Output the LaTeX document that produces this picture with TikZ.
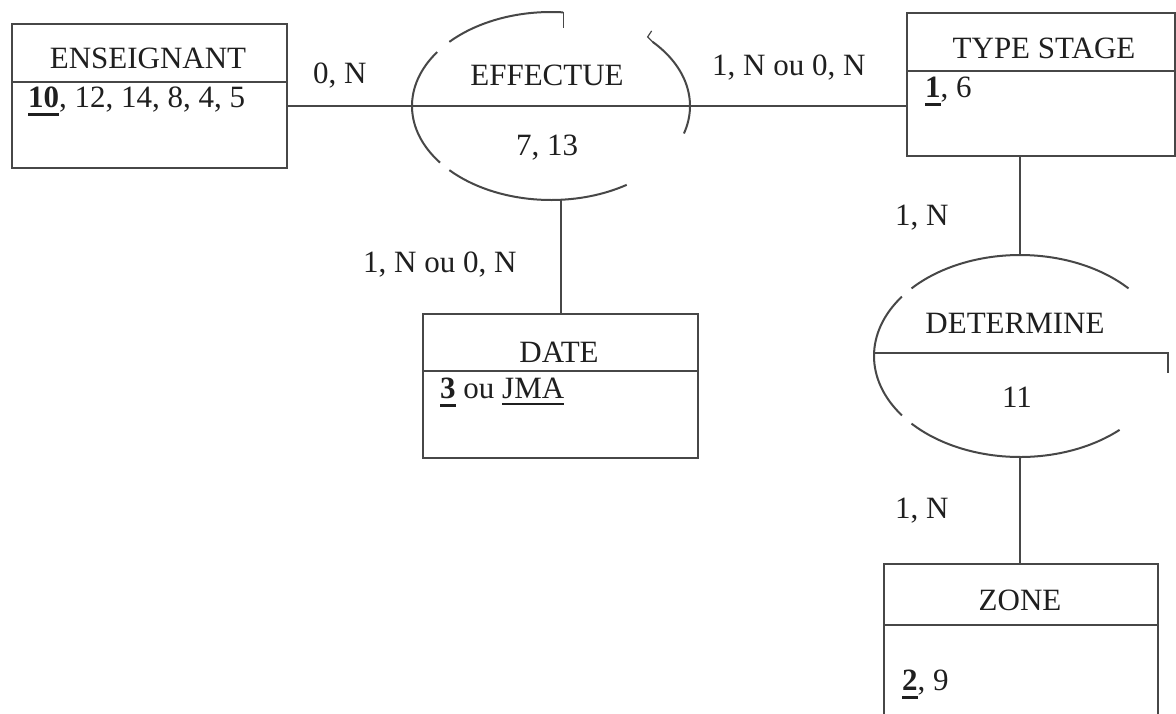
\documentclass[tikz,border=0pt]{standalone}
\usepackage{fontspec}
\setmainfont{Liberation Serif}
\newcommand{\keynum}[1]{\setbox0\hbox{\textbf{#1}}\leavevmode\rlap{\rule[-9pt]{\wd0}{3.2pt}}\box0\relax}
\newcommand{\thinul}[1]{\setbox0\hbox{#1}\leavevmode\rlap{\rule[-6.5pt]{\wd0}{1.5pt}}\box0\relax}
\begin{document}
\begin{tikzpicture}[x=1pt,y=-1pt,
  ln/.style={draw=black!72, line width=2pt},
  thin/.style={draw=black!72, line width=1.2pt},
  txt/.style={inner sep=0pt, font=\fontsize{31}{36}\selectfont, text=black!88},
  ent/.style={draw=black!72, line width=2pt, inner sep=0pt, anchor=north west, fill=white}]
\useasboundingbox[fill=white] (0,0) rectangle (1176,713);

% entity boxes
\node[ent, minimum width=275pt, minimum height=144pt] (ens) at (11,23) {};
\node[ent, minimum width=268pt, minimum height=143pt] (ts) at (906,12) {};
\node[ent, minimum width=275pt, minimum height=144pt] (date) at (422,313) {};
\node[ent, minimum width=274pt, minimum height=162pt] (zone) at (883,563) {};

% dividers
\draw[ln] (ens.west |- 0,82) -- (ens.east |- 0,82);
\draw[ln] (ts.west |- 0,71) -- (ts.east |- 0,71);
\draw[ln] (date.west |- 0,371) -- (date.east |- 0,371);
\draw[ln] (zone.west |- 0,625) -- (zone.east |- 0,625);

% association centres
\coordinate (eff) at (551,106);
\coordinate (effb) at (560,200);
\coordinate (det) at (1020,356);
\coordinate (dett) at (1020,255);
\coordinate (detb) at (1020,457);

% EFFECTUE ellipse pieces
\draw[ln] (eff) ++(85:139pt and 94pt) arc[start angle=85, end angle=137, x radius=139pt, y radius=94pt];
\draw[thin] (eff) ++(85:139pt and 94pt) -- ++(0,16);
\draw[ln] (eff) ++(145:139pt and 94pt) arc[start angle=145, end angle=217, x radius=139pt, y radius=94pt];
\draw[ln] (eff) ++(223:139pt and 94pt) arc[start angle=223, end angle=303, x radius=139pt, y radius=94pt];
\draw[ln] (eff) ++(43:139pt and 94pt) coordinate (rs) arc[start angle=43, end angle=-17, x radius=139pt, y radius=94pt];
\draw[thin] (rs) -- ++(-5,-5) -- ++(4,-6);

% DETERMINE ellipse pieces
\draw[ln] (det) ++(42:146pt and 101pt) arc[start angle=42, end angle=138, x radius=146pt, y radius=101pt];
\draw[ln] (det) ++(144:146pt and 101pt) arc[start angle=144, end angle=216, x radius=146pt, y radius=101pt];
\draw[ln] (det) ++(222:146pt and 101pt) arc[start angle=222, end angle=313, x radius=146pt, y radius=101pt];
\draw[ln] (det) ++(-146,-3) -- ++(294,0) -- ++(0,20);

% connectors
\draw[ln] (ens.east |- eff) -- (ts.west |- eff);
\draw[ln] (date.north) -- (date.north |- effb);
\draw[ln] (dett) -- (dett |- ts.south);
\draw[ln] (detb) -- (detb |- zone.north);

% titles
\node[txt, anchor=base] (tens) at (148,68) {ENSEIGNANT};
\node[txt, anchor=base] (tts) at (1044,58) {TYPE STAGE};
\node[txt, anchor=base] (tdate) at (559,362) {DATE};
\node[txt, anchor=base] (tzone) at (1020,610) {ZONE};
\node[txt, anchor=base] (teff) at (547,85) {EFFECTUE};
\node[txt, anchor=base] (teffa) at (547,155) {7, 13};
\node[txt, anchor=base] (tdet) at (1015,333) {DETERMINE};
\node[txt, anchor=base] (tdeta) at (1017,407) {11};

% attributes
\node[txt, anchor=base west] (aens) at (28,107) {\keynum{10}, 12, 14, 8, 4, 5};
\node[txt, anchor=base west] (ats) at (925,97) {\keynum{1}, 6};
\node[txt, anchor=base west] (adate) at (440,398) {\keynum{3} ou \thinul{JMA}};
\node[txt, anchor=base west] (azone) at (902,690) {\keynum{2}, 9};

% cardinalities
\node[txt, anchor=base west] (c1) at (313,83) {0, N};
\node[txt, anchor=base west] (c2) at (712,75) {1, N ou 0, N};
\node[txt, anchor=base west] (c3) at (363,272) {1, N ou 0, N};
\node[txt, anchor=base west] (c4) at (895,225) {1, N};
\node[txt, anchor=base west] (c5) at (895,518) {1, N};
\end{tikzpicture}
\end{document}
